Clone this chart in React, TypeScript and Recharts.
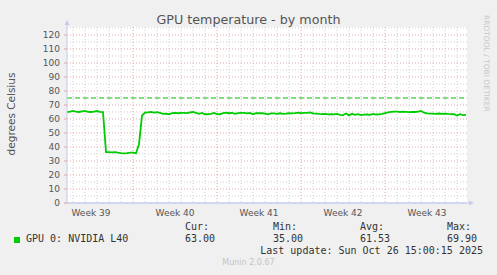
import React from "react";
import {
  LineChart,
  Line,
  XAxis,
  YAxis,
  CartesianGrid,
  ReferenceLine,
} from "recharts";

// 6-hour samples, day 0 = start of the graph window
const STEP = 0.25;
const temps = [
  65.0, 65.3, 65.8, 65.2, 65.0, 65.4, 65.8, 65.1, 65.0, 65.2, 65.7, 65.1, 65.0,
  36.3, 36.3, 36.2, 36.3, 35.9, 35.6, 35.5, 35.6, 36.0, 36.0, 35.5,
  42.0, 62.5, 64.5,
  64.8, 65.1, 64.6, 64.9, 64.4,
  63.6, 63.8, 63.4, 64.2, 64.3, 64.1, 64.3, 64.4, 64.2, 64.8, 65.0, 64.4, 63.7,
  64.3, 63.4, 63.4, 63.6, 64.3, 63.5, 63.4, 64.2, 64.5, 64.1, 64.3, 63.7, 64.2,
  64.4, 64.3, 64.0, 64.3, 63.4, 64.1, 64.2,
  64.1, 63.9, 63.3, 64.0, 64.0, 63.7, 64.1, 63.7, 63.8, 64.1, 64.0, 64.2, 64.6,
  64.2, 64.3, 64.3, 64.7, 64.0, 63.9, 63.6, 63.5, 63.7, 63.3, 63.5, 63.3, 63.6,
  63.0, 62.8, 63.9, 62.6, 63.7,
  63.0, 63.4, 62.8, 63.1, 63.2, 63.0, 63.6, 63.2, 63.3, 63.6, 64.1,
  64.8, 65.1, 65.3, 65.2, 65.0, 65.2, 65.1, 64.9, 65.0, 65.0, 65.2, 65.8,
  64.5, 64.0, 63.8, 63.9, 63.6, 63.9, 63.7, 63.8, 63.6, 63.5, 63.4, 62.5, 63.4,
  62.8, 63.0,
];

const weekLabels = ["Week 39", "Week 40", "Week 41", "Week 42", "Week 43"];
const weekMidDays = [2, 9, 16, 23, 30];
const weekStartDays = [5.5, 12.5, 19.5, 26.5];
const yTicks = [0, 10, 20, 30, 40, 50, 60, 70, 80, 90, 100, 110, 120];
const WARNING = 75;
const X_MAX = 33.33;
const Y_MAX = 125.7;

const statHeads = ["Cur:", "Min:", "Avg:", "Max:"];
const statValues = ["63.00", "35.00", "61.53", "69.90"];
const statCols = [185, 273, 360, 447];

const data = temps.map((t, i) => ({ day: i * STEP, temp: t }));

const dayLines: number[] = [];
for (let d = 0.5; d < X_MAX; d += 1) {
  if (!weekStartDays.includes(d)) dayLines.push(d);
}
const minorY: number[] = [];
for (let v = 5; v < Y_MAX; v += 10) minorY.push(v);

const AXIS = "#c4cbef";
const GREEN = "#00cc00";
const sans = "'DejaVu Sans', sans-serif";
const mono = "'DejaVu Sans Mono', monospace";

const YArrow = (props: any) => {
  const { x, y, width } = props.viewBox;
  const ax = x + width;
  return (
    <g>
      <line x1={ax} y1={y} x2={ax} y2={y - 5} stroke={AXIS} />
      <polygon points={`${ax - 2.5},${y - 2} ${ax + 2.5},${y - 2} ${ax},${y - 7}`} fill={AXIS} />
    </g>
  );
};

const XArrow = (props: any) => {
  const { x, y, width } = props.viewBox;
  const ax = x + width;
  return (
    <g>
      <line x1={x - 3} y1={y} x2={ax + 4} y2={y} stroke={AXIS} />
      <polygon points={`${ax + 2},${y - 2.5} ${ax + 2},${y + 2.5} ${ax + 7},${y}`} fill={AXIS} />
    </g>
  );
};

export default function App() {
  return (
    <div
      style={{
        position: "fixed",
        left: 0,
        top: 0,
        width: 497,
        height: 275,
        background: "#f0f0f0",
        overflow: "hidden",
      }}
    >
      <div
        style={{
          position: "absolute",
          top: 12,
          left: 0,
          width: 497,
          textAlign: "center",
          fontFamily: sans,
          fontSize: 12.7,
          color: "#555",
        }}
      >
        GPU temperature - by month
      </div>
      <div
        style={{
          position: "absolute",
          left: 11,
          top: 114,
          transform: "translate(-50%, -50%) rotate(-90deg)",
          whiteSpace: "nowrap",
          fontFamily: sans,
          fontSize: 10.5,
          color: "#555",
        }}
      >
        degrees Celsius
      </div>
      <div
        style={{
          position: "absolute",
          left: 482,
          top: 15,
          writingMode: "vertical-rl",
          fontFamily: sans,
          fontSize: 7.5,
          color: "#c8c8c8",
          whiteSpace: "nowrap",
        }}
      >
        RRDTOOL / TOBI OETIKER
      </div>

      <div style={{ position: "absolute", left: 0, top: 0 }}>
        <LineChart
          width={497}
          height={275}
          data={data}
          margin={{ top: 27, right: 30, left: 37, bottom: 52 }}
        >
          <CartesianGrid
            fill="#ffffff"
            stroke="#cfcfcf"
            strokeDasharray="1 2"
            horizontalValues={minorY}
            verticalValues={dayLines}
          />
          <CartesianGrid
            stroke="#e0a8a8"
            strokeDasharray="1 2"
            horizontalValues={yTicks.filter((v) => v > 0)}
            verticalValues={weekStartDays}
          />
          <XAxis
            dataKey="day"
            type="number"
            domain={[0, X_MAX]}
            allowDataOverflow
            ticks={weekMidDays}
            tickFormatter={(v: number) => weekLabels[weekMidDays.indexOf(v)] ?? ""}
            interval={0}
            height={20}
            tickLine={false}
            tickSize={5}
            tickMargin={2}
            axisLine={{ stroke: AXIS }}
            tick={{ fontFamily: sans, fontSize: 9, fill: "#555" }}
            label={<XArrow />}
          />
          <YAxis
            type="number"
            domain={[0, Y_MAX]}
            allowDataOverflow
            ticks={yTicks}
            interval={0}
            width={30}
            tickSize={3}
            tickMargin={4}
            tickLine={{ stroke: "#e0a8a8" }}
            axisLine={{ stroke: AXIS }}
            tick={{ fontFamily: sans, fontSize: 9, fill: "#555" }}
            label={<YArrow />}
          />
          <ReferenceLine y={WARNING} stroke={GREEN} strokeDasharray="5 3" strokeWidth={1} />
          <Line
            type="linear"
            dataKey="temp"
            stroke={GREEN}
            strokeWidth={1.8}
            dot={false}
            isAnimationActive={false}
          />
        </LineChart>
      </div>

      {/* legend */}
      <div
        style={{
          position: "absolute",
          left: 14,
          top: 237,
          width: 6,
          height: 6,
          background: GREEN,
        }}
      />
      <div
        style={{
          position: "absolute",
          left: 26,
          top: 233,
          fontFamily: mono,
          fontSize: 10,
          color: "#333",
          whiteSpace: "pre",
        }}
      >
        GPU 0: NVIDIA L40
      </div>
      {statHeads.map((h, i) => (
        <React.Fragment key={h}>
          <div
            style={{
              position: "absolute",
              left: statCols[i],
              top: 221,
              fontFamily: mono,
              fontSize: 10,
              color: "#333",
            }}
          >
            {h}
          </div>
          <div
            style={{
              position: "absolute",
              left: statCols[i],
              top: 233,
              fontFamily: mono,
              fontSize: 10,
              color: "#333",
            }}
          >
            {statValues[i]}
          </div>
        </React.Fragment>
      ))}
      <div
        style={{
          position: "absolute",
          right: 14,
          top: 245,
          fontFamily: mono,
          fontSize: 10,
          color: "#333",
          whiteSpace: "pre",
        }}
      >
        Last update: Sun Oct 26 15:00:15 2025
      </div>
      <div
        style={{
          position: "absolute",
          left: 0,
          top: 258,
          width: 497,
          textAlign: "center",
          fontFamily: sans,
          fontSize: 8,
          color: "#c4c4c4",
        }}
      >
        Munin 2.0.67
      </div>
    </div>
  );
}
